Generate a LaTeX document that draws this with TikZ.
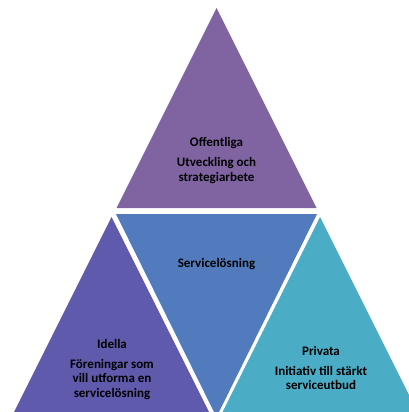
\documentclass[tikz,border=0pt]{standalone}
\usepackage{fontspec}
\setmainfont{Carlito}
\definecolor{cTop}{HTML}{8064A2}
\definecolor{cMid}{HTML}{517BBD}
\definecolor{cLeft}{HTML}{5F5AAC}
\definecolor{cRight}{HTML}{4BACC6}
\begin{document}
\begin{tikzpicture}[x=1pt,y=-1pt,
  lbl/.style={font=\bfseries\fontsize{13}{14.5}\selectfont, inner sep=0pt, anchor=base, text=black}]
\useasboundingbox (0,0) rectangle (409,412);
\begin{scope}
\clip (0,0) rectangle (409,412);
\fill[cTop]   (216.5,8)  -- (116.5,208) -- (316.5,208) -- cycle;
\fill[cMid]   (116,214)  -- (317,214)   -- (216.5,417) -- cycle;
\fill[cLeft]  (111.5,217) -- (11.5,417) -- (211.5,417) -- cycle;
\fill[cRight] (320,217)  -- (220,417)   -- (420,417)   -- cycle;
\end{scope}
% top
\node[lbl] (o1) at (216.5,146) {Offentliga};
\node[lbl] (o2) at (216.5,166.5) {Utveckling och};
\node[lbl] (o3) at (216.5,181) {strategiarbete};
% middle
\node[lbl] (s1) at (216.5,267) {Servicelösning};
% left
\node[lbl] (i1) at (112,348) {Idella};
\node[lbl] (i2) at (112,368) {Föreningar som};
\node[lbl] (i3) at (112,382.5) {vill utforma en};
\node[lbl] (i4) at (112,397) {servicelösning};
% right
\node[lbl] (p1) at (321,355) {Privata};
\node[lbl] (p2) at (321,375) {Initiativ till stärkt};
\node[lbl] (p3) at (321,389.5) {serviceutbud};
\end{tikzpicture}
\end{document}
